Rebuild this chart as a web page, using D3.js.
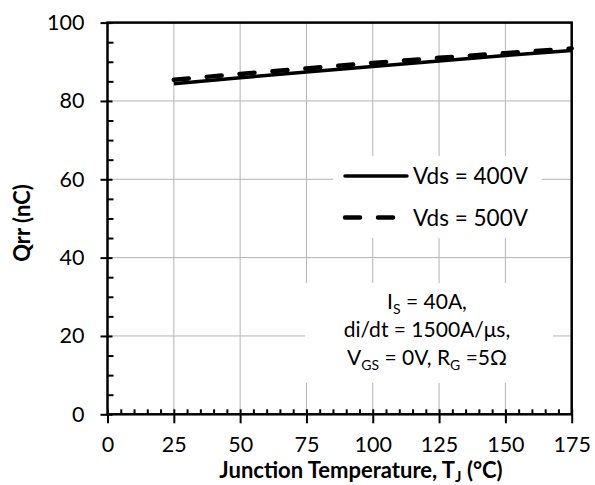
<!DOCTYPE html>
<html>
<head>
<meta charset="utf-8">
<script src="https://cdn.jsdelivr.net/npm/d3@7"></script>
<style>
  html, body { margin: 0; padding: 0; background: #fff; }
  svg { display: block; font-family: Lato, "Open Sans", sans-serif; }
</style>
</head>
<body>
<svg id="chart" width="595" height="485"></svg>
<script>
// Values
const temps = [25, 50, 75, 100, 125, 150, 175];
const qrr400 = [84.4, 85.9, 87.4, 88.8, 90.2, 91.6, 92.9];
const qrr500 = [85.4, 86.9, 88.3, 89.7, 91.0, 92.2, 93.4];
const xTicks = [0, 25, 50, 75, 100, 125, 150, 175];
const yTicks = [0, 20, 40, 60, 80, 100];
const seriesNames = ['Vds = 400V', 'Vds = 500V'];

const width = 595, height = 485;
const margin = { top: 22.6, right: 23.3, bottom: 70.7, left: 107.5 };

const svg = d3.select('#chart');

const x = d3.scaleLinear().domain([0, 175]).range([margin.left, width - margin.right]);
const y = d3.scaleLinear().domain([0, 100]).range([height - margin.bottom, margin.top]);

// grid lines
const grid = svg.append('g').attr('stroke', '#b4b4b4').attr('stroke-width', 1);
grid.selectAll('line.v')
  .data(xTicks.slice(1, -1))
  .join('line')
  .attr('x1', d => x(d)).attr('x2', d => x(d))
  .attr('y1', y(0)).attr('y2', y(100));
grid.selectAll('line.h')
  .data(yTicks.slice(1, -1))
  .join('line')
  .attr('x1', x(0)).attr('x2', x(175))
  .attr('y1', d => y(d)).attr('y2', d => y(d));

// white boxes behind legend and note (they hide the grid)
svg.append('rect').attr('x', 333).attr('y', 156).attr('width', 209).attr('height', 82).attr('fill', '#fff');
svg.append('rect').attr('x', 305).attr('y', 283).attr('width', 248).attr('height', 100).attr('fill', '#fff');

// curves
const line = d3.line().x((d, i) => x(temps[i])).y(d => y(d));

svg.append('path')
  .datum(qrr400)
  .attr('d', line)
  .attr('fill', 'none')
  .attr('stroke', '#000')
  .attr('stroke-width', 3.5);

svg.append('path')
  .datum(qrr500)
  .attr('d', line)
  .attr('fill', 'none')
  .attr('stroke', '#000')
  .attr('stroke-width', 4.5)
  .attr('stroke-dasharray', '15,18')
  .attr('stroke-linecap', 'round');

// frame
svg.append('rect')
  .attr('x', x(0)).attr('y', y(100))
  .attr('width', x(175) - x(0)).attr('height', y(0) - y(100))
  .attr('fill', 'none').attr('stroke', '#000').attr('stroke-width', 2.5);

// axes
const minorX = d3.range(0, 176, 5).filter(d => d % 25 !== 0);
const minorY = d3.range(0, 101, 5).filter(d => d % 20 !== 0);

const xAxis = svg.append('g')
  .attr('transform', `translate(0,${y(0)})`)
  .call(d3.axisBottom(x).tickValues(xTicks).tickSizeInner(9).tickSizeOuter(0).tickPadding(13));
xAxis.select('.domain').remove();
xAxis.selectAll('.tick line').attr('y1', -5).attr('stroke-width', 2);
xAxis.selectAll('.tick text').attr('font-size', 21.5).attr('font-family', 'Lato');

svg.append('g')
  .attr('transform', `translate(0,${y(0)})`)
  .call(d3.axisBottom(x).tickValues(minorX).tickSize(-5).tickFormat(''))
  .call(g => g.select('.domain').remove())
  .selectAll('.tick line').attr('stroke-width', 2);

const yAxis = svg.append('g')
  .attr('transform', `translate(${x(0)},0)`)
  .call(d3.axisLeft(y).tickValues(yTicks).tickSizeInner(7).tickSizeOuter(0).tickPadding(16));
yAxis.select('.domain').remove();
yAxis.selectAll('.tick line').attr('x1', 5).attr('stroke-width', 2);
yAxis.selectAll('.tick text').attr('font-size', 21.5).attr('font-family', 'Lato');

svg.append('g')
  .attr('transform', `translate(${x(0)},0)`)
  .call(d3.axisLeft(y).tickValues(minorY).tickSize(-6).tickFormat(''))
  .call(g => g.select('.domain').remove())
  .selectAll('.tick line').attr('stroke-width', 2);

svg.selectAll('.tick text').attr('fill', '#000');

// axis titles
const xTitle = svg.append('text')
  .attr('x', 361).attr('y', 478)
  .attr('text-anchor', 'middle')
  .attr('font-size', 22).attr('font-weight', 'bold');
xTitle.append('tspan').text('Junction Temperature, T');
xTitle.append('tspan').attr('font-size', 15).attr('dy', 4).text('J');
xTitle.append('tspan').attr('dy', -4).text(' (°C)');

svg.append('text')
  .attr('transform', 'translate(30,223) rotate(-90)')
  .attr('text-anchor', 'middle')
  .attr('font-size', 22).attr('font-weight', 'bold')
  .text('Qrr (nC)');

// legend
const legendY = [176, 217.5];
const legend = svg.append('g');
legend.selectAll('line')
  .data(seriesNames)
  .join('line')
  .attr('x1', 345).attr('x2', 407)
  .attr('y1', (d, i) => legendY[i]).attr('y2', (d, i) => legendY[i])
  .attr('stroke', '#000')
  .attr('stroke-width', (d, i) => i ? 4.5 : 3.5)
  .attr('stroke-linecap', 'round')
  .attr('stroke-dasharray', (d, i) => i ? '15,18' : null);
legend.selectAll('text')
  .data(seriesNames)
  .join('text')
  .attr('x', 413)
  .attr('y', (d, i) => legendY[i] + 8)
  .attr('font-size', 22.5)
  .text(d => d);

// test conditions note
const note = svg.append('g').attr('font-size', 21).attr('text-anchor', 'middle');
const l1 = note.append('text').attr('x', 427).attr('y', 309);
l1.append('tspan').text('I');
l1.append('tspan').attr('font-size', 14).attr('dy', 5).text('S');
l1.append('tspan').attr('dy', -5).text(' = 40A,');

note.append('text').attr('x', 427).attr('y', 337).text('di/dt = 1500A/\u03bcs,');

const l3 = note.append('text').attr('x', 427).attr('y', 365);
l3.append('tspan').text('V');
l3.append('tspan').attr('font-size', 14).attr('dy', 5).text('GS');
l3.append('tspan').attr('dy', -5).text(' = 0V, R');
l3.append('tspan').attr('font-size', 14).attr('dy', 5).text('G');
l3.append('tspan').attr('dy', -5).text(' =5\u03a9');
</script>
</body>
</html>
